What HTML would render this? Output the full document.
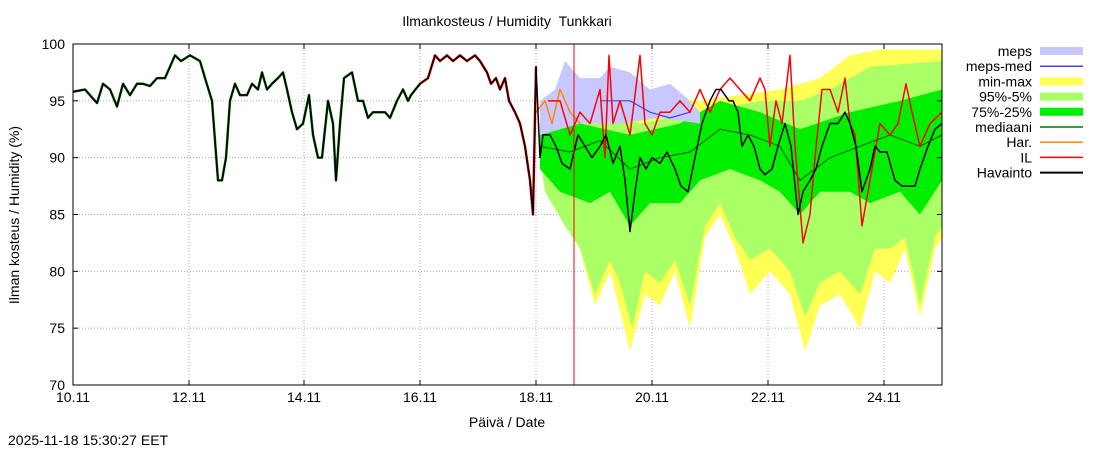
<!DOCTYPE html>
<html><head><meta charset="utf-8"><style>
body{margin:0;background:#fff;font-family:"Liberation Sans",sans-serif;}
svg text{font-family:"Liberation Sans",sans-serif;font-size:14px;fill:#000}
</style></head><body>
<svg id="s" width="1100" height="450" xmlns="http://www.w3.org/2000/svg">
<text x="507" y="26" text-anchor="middle">Ilmankosteus / Humidity&#160;&#160;Tunkkari</text>
<g id="grid" stroke="#aaa" stroke-dasharray="1,2" stroke-width="1"></g>
<g id="data"></g>
<rect x="73" y="44" width="869" height="341" fill="none" stroke="#000"/>
<g id="ticks"></g>
<text x="507" y="427" text-anchor="middle">Päivä / Date</text>
<text x="19" y="215" text-anchor="middle" transform="rotate(-90 19 215)">Ilman kosteus / Humidity (%)</text>
<text x="8" y="445">2025-11-18 15:30:27 EET</text>
<g id="leg"></g>
</svg>
<script>
const Y=v=>385-(v-70)*11.367;
const NS="http://www.w3.org/2000/svg";
function el(p,t,a){const e=document.createElementNS(NS,t);for(const k in a)e.setAttribute(k,a[k]);document.getElementById(p).appendChild(e);return e;}
const xs=[73,189,304,420,536,652,768,884],xl=["10.11","12.11","14.11","16.11","18.11","20.11","22.11","24.11"];
xs.forEach((x,i)=>{if(i)el("grid","line",{x1:x,x2:x,y1:44,y2:385});el("ticks","line",{x1:x,x2:x,y1:385,y2:380,stroke:"#000"});el("ticks","line",{x1:x,x2:x,y1:44,y2:49,stroke:"#000"});const t=el("ticks","text",{x:x,y:402,"text-anchor":"middle"});t.textContent=xl[i];});
for(let v=70;v<=100;v+=5){const y=Y(v);if(v>70&&v<100)el("grid","line",{x1:73,x2:942,y1:y,y2:y});el("ticks","line",{x1:73,x2:78,y1:y,y2:y,stroke:"#000"});el("ticks","line",{x1:937,x2:942,y1:y,y2:y,stroke:"#000"});const t=el("ticks","text",{x:65,y:y+5,"text-anchor":"end"});t.textContent=v;}
function band(up,lo,c){let d="M"+up.map(p=>p[0]+","+Y(p[1])).join("L")+"L"+lo.slice().reverse().map(p=>p[0]+","+Y(p[1])).join("L")+"Z";el("data","path",{d:d,fill:c});}
function line(pts,c,w){el("data","polyline",{points:pts.map(p=>p[0]+","+Y(p[1])).join(" "),fill:"none",stroke:c,"stroke-width":w||1.5,"stroke-linejoin":"round"});}
band([[540,95],[600,96],[700,95],[780,96],[820,97],[850,99],[880,99.5],[942,99.5]],
 [[540,90],[545,88],[580,82],[595,77],[610,80],[630,73],[645,78],[660,77],[675,80],[690,75],[705,83],[720,85],[735,82],[750,78],[770,80],[790,78],[805,73],[820,77],[840,78],[860,75],[875,80],[890,79],[905,82],[920,76],[935,82],[942,83]],"#ffff55");
band([[540,94],[560,93.5],[600,94],[640,93],[700,94],[760,95],[800,95],[830,96],[870,98],[942,98.5]],
 [[540,90],[545,87],[565,84],[580,82],[595,78],[610,81],[620,79],[632,75],[645,80],[660,79],[675,81],[690,77],[705,84],[720,86],[735,83],[750,81],[770,82],[790,80],[805,76],[820,79],[840,80],[860,78],[875,82],[890,82],[905,83],[920,77],[935,83],[942,84]],"#aaff66");
band([[540,92],[580,93],[630,92],[680,93],[720,95],[760,94],[800,92.5],[850,94],[900,95],[942,96]],
 [[540,89],[560,87],[590,86],[610,87],[630,84],[650,86],[680,86],[700,88],[730,89],[760,88],[780,87],[800,85],[820,87],[850,87],[870,86],[900,87],[920,85],[942,88]],"#00ee00");
band([[540,95],[555,96],[565,98.5],[580,97],[600,97],[610,98],[630,97.5],[650,96],[670,96.5],[690,95],[700,94]],
 [[540,92],[580,93],[620,93],[660,93.5],[700,93]],"#c8c8ff");
line([[600,95],[630,95],[650,94],[670,93.5],[690,94]],"#4444ee",1.2);
line([[540,91],[570,90.5],[600,91.5],[630,89],[660,90],[690,90.5],[720,92.5],[750,92],[780,91],[800,88],[830,90],[860,91],[890,92],[920,91],[942,92]],"#007700",1.2);
line([[536,94],[545,95],[552,93],[560,96],[570,94],[580,93]],"#ff8800",1.5);
line([[548,95],[560,95],[570,92],[580,94],[590,93],[600,96],[605,90],[609,99],[613,93],[620,95],[630,92],[640,99],[645,93],[652,92],[660,94],[670,94],[680,95],[690,94],[700,96],[710,94],[720,96],[730,97],[740,96],[750,95],[760,97],[765,96],[770,91],[776,95],[782,93],[790,99],[795,91],[803,82.5],[810,85],[815,90],[822,96],[830,96],[838,94],[845,97],[850,93],[855,92],[862,84],[870,88],[880,93],[890,92],[898,93],[906,96.5],[912,94],[920,91],[930,93],[942,94]],"#ff0000",1.5);
const h=[[73,95.8],[85,96],[90,95.5],[97,94.8],[103,96.5],[110,96],[117,94.5],[123,96.5],[130,95.5],[137,96.5],[143,96.5],[150,96.3],[157,97],[165,97],[175,99],[181,98.5],[190,99],[200,98.5],[205,97],[212,95],[218,88],[222,88],[226,90],[230,95],[235,96.5],[240,95.5],[247,95.5],[252,96.5],[258,96],[262,97.5],[267,96],[272,96.5],[278,97],[283,97.5],[287,96],[292,94],[297,92.5],[303,93],[309,95.5],[313,92],[318,90],[322,90],[328,95],[333,93],[336,88],[340,93],[344,97],[352,97.5],[358,95],[363,95],[368,93.5],[373,94],[380,94],[385,94],[390,93.5],[397,95],[403,96],[408,95],[411,95.5],[420,96.5],[428,97],[435,99],[440,98.5],[447,99],[453,98.5],[460,99],[467,98.5],[475,99],[480,98.5],[487,97.5],[491,96.5],[496,97],[500,96],[505,97],[509,95],[515,94],[520,93],[525,91],[530,88],[533,85],[536,98],[540,90],[543,92],[550,92],[556,91],[562,89.5],[570,89],[578,92],[585,91],[592,90],[600,91],[606,92],[613,89.5],[620,91],[625,88],[630,83.5],[635,87],[640,90],[646,89],[652,90],[660,89.5],[667,90.5],[675,89],[681,87.5],[688,87],[695,90],[702,93],[710,95],[716,96],[721,96],[729,95],[733,95],[738,94],[742,91],[748,92],[754,91],[760,89],[765,88.5],[772,89],[778,91],[785,93],[791,91],[798,85],[803,87],[810,88],[816,89],[822,91],[830,93],[838,93],[845,94],[850,93],[856,91],[862,87],[870,89],[875,91],[880,90.5],[887,90.5],[895,88],[902,87.5],[910,87.5],[915,87.5],[920,89],[928,91],[935,92.5],[942,93]];
line(h.filter(p=>p[0]>=420&&p[0]<=536),"#ff0000",2.5);
line(h.filter(p=>p[0]<=420),"#007700",2.5);
line(h,"#000",1.5);
el("data","line",{x1:574,x2:574,y1:44,y2:385,stroke:"#ff0000","stroke-width":1});
const L=[["meps","#c8c8ff",8],["meps-med","#4444ee",1.5],["min-max","#ffff55",8],["95%-5%","#aaff66",8],["75%-25%","#00ee00",8],["mediaani","#007700",1.5],["Har.","#ff8800",1.5],["IL","#ff0000",1.5],["Havainto","#000",2]];
L.forEach((l,i)=>{const y=51+i*15.2;const t=el("leg","text",{x:1032,y:y+5,"text-anchor":"end"});t.textContent=l[0];el("leg","line",{x1:1040,x2:1083,y1:y,y2:y,stroke:l[1],"stroke-width":l[2]});});
</script>
</body></html>
